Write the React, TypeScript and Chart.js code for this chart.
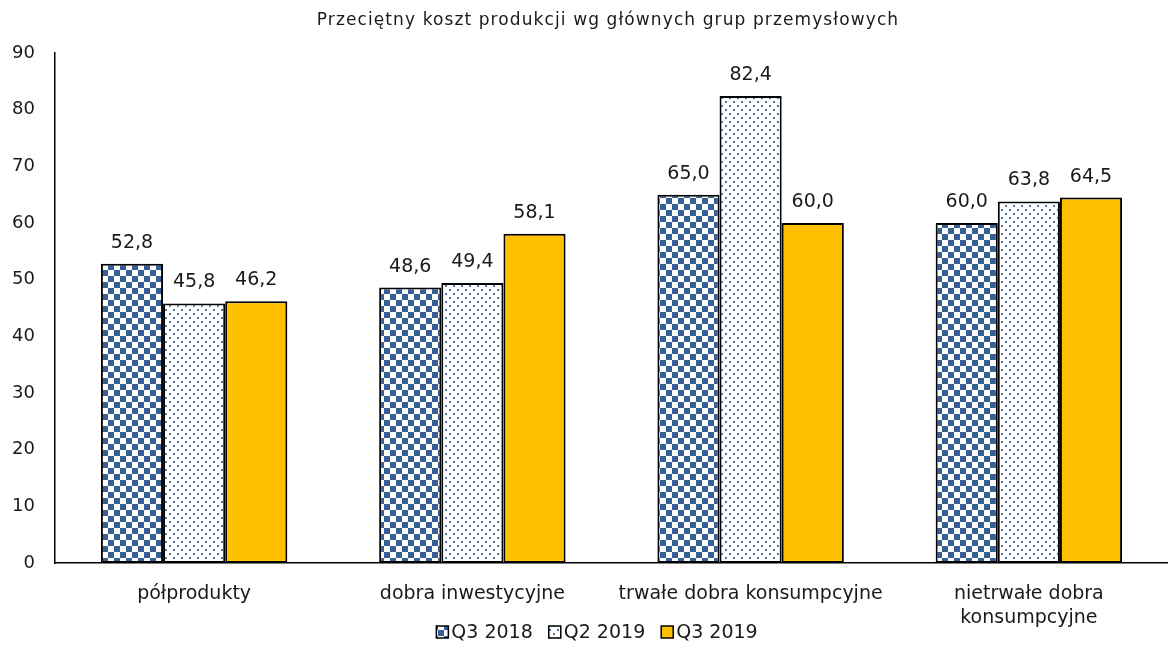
import React, { useEffect, useRef } from "react";
import { Chart, registerables } from "chart.js";

Chart.register(...registerables);

const title = "Przeciętny koszt produkcji wg głównych grup przemysłowych";
const categories: (string | string[])[] = [
  "półprodukty",
  "dobra inwestycyjne",
  "trwałe dobra konsumpcyjne",
  ["nietrwałe dobra", "konsumpcyjne"],
];
const seriesNames = ["Q3 2018", "Q2 2019", "Q3 2019"];
const q3_2018 = [52.8, 48.6, 65.0, 60.0];
const q2_2019 = [45.8, 49.4, 82.4, 63.8];
const q3_2019 = [46.2, 58.1, 60.0, 64.5];

const BLUE = "#365F95";
const DOT = "#4F73A8";
const GOLD = "#FFC000";
const TEXT = "#1a1a1a";
const FONT = "'DejaVu Sans', Verdana, sans-serif";

function checkerPattern(): CanvasPattern | string {
  const c = document.createElement("canvas");
  c.width = 12;
  c.height = 12;
  const g = c.getContext("2d")!;
  g.fillStyle = "#ffffff";
  g.fillRect(0, 0, 12, 12);
  g.fillStyle = BLUE;
  g.fillRect(0, 0, 6, 6);
  g.fillRect(6, 6, 6, 6);
  return g.createPattern(c, "repeat") || BLUE;
}

function dotPattern(): CanvasPattern | string {
  const c = document.createElement("canvas");
  c.width = 8;
  c.height = 8;
  const g = c.getContext("2d")!;
  g.fillStyle = "#ffffff";
  g.fillRect(0, 0, 8, 8);
  g.fillStyle = DOT;
  g.fillRect(1, 1, 2, 2);
  g.fillRect(5, 5, 2, 2);
  return g.createPattern(c, "repeat") || "#ffffff";
}

// value labels above each bar, decimal comma
const valueLabels = {
  id: "valueLabels",
  afterDatasetsDraw(chart: any) {
    const ctx = chart.ctx;
    ctx.save();
    ctx.font = `19px ${FONT}`;
    ctx.fillStyle = TEXT;
    ctx.textAlign = "center";
    ctx.textBaseline = "alphabetic";
    chart.data.datasets.forEach((ds: any, i: number) => {
      const meta = chart.getDatasetMeta(i);
      meta.data.forEach((bar: any, j: number) => {
        const v = ds.data[j] as number;
        ctx.fillText(v.toFixed(1).replace(".", ","), bar.x, bar.y - 16);
      });
    });
    ctx.restore();
  },
};

// title and legend drawn by hand
const decorations = {
  id: "decorations",
  afterDraw(chart: any) {
    const ctx = chart.ctx as CanvasRenderingContext2D;
    ctx.save();
    ctx.fillStyle = TEXT;
    ctx.font = `17px ${FONT}`;
    (ctx as any).letterSpacing = "1.1px";
    ctx.textAlign = "center";
    ctx.textBaseline = "middle";
    ctx.fillText(title, 608, 21);
    (ctx as any).letterSpacing = "0px";

    ctx.font = `19px ${FONT}`;
    ctx.textAlign = "left";
    const box = 12;
    const gapBoxText = 3;
    const gapItems = 16;
    const widths = seriesNames.map((n) => ctx.measureText(n).width);
    const total =
      widths.reduce((a, w) => a + box + gapBoxText + w, 0) + gapItems * (seriesNames.length - 1);
    let x = 597 - total / 2;
    const cy = 632;
    chart.data.datasets.forEach((ds: any, i: number) => {
      ctx.fillStyle = ds.backgroundColor;
      ctx.fillRect(x, cy - box / 2, box, box);
      ctx.strokeStyle = "#000";
      ctx.lineWidth = 1.5;
      ctx.strokeRect(x, cy - box / 2, box, box);
      ctx.fillStyle = TEXT;
      ctx.fillText(seriesNames[i], x + box + gapBoxText, cy + 1);
      x += box + gapBoxText + widths[i] + gapItems;
    });
    ctx.restore();
  },
};

export default function App() {
  const ref = useRef<HTMLCanvasElement>(null);

  useEffect(() => {
    if (!ref.current) return;
    const common = {
      borderColor: "#000000",
      borderWidth: 2,
      borderSkipped: false,
      barPercentage: 1,
      categoryPercentage: 0.67,
    };
    const chart = new Chart(ref.current, {
      type: "bar",
      data: {
        labels: categories,
        datasets: [
          { label: seriesNames[0], data: q3_2018, backgroundColor: checkerPattern() as any, ...common },
          { label: seriesNames[1], data: q2_2019, backgroundColor: dotPattern() as any, ...common },
          { label: seriesNames[2], data: q3_2019, backgroundColor: GOLD, ...common },
        ],
      },
      options: {
        animation: false,
        responsive: true,
        maintainAspectRatio: false,
        layout: { padding: { top: 53, right: 0, left: 0, bottom: 0 } },
        plugins: {
          title: { display: false },
          legend: { display: false },
          tooltip: { enabled: false },
        },
        scales: {
          x: {
            grid: { display: false, drawTicks: false },
            border: { display: true, color: "#000", width: 1.5 },
            ticks: {
              color: TEXT,
              font: { family: FONT, size: 19, lineHeight: 1.26 },
              padding: 19,
              maxRotation: 0,
            },
            afterFit(scale: any) {
              scale.height = 83;
            },
          },
          y: {
            min: 0,
            max: 90,
            grid: { display: false, drawTicks: false },
            border: { display: true, color: "#000", width: 1.5 },
            ticks: { stepSize: 10, color: TEXT, font: { family: FONT, size: 18 }, padding: 20 },
            afterFit(scale: any) {
              scale.width = 55;
            },
          },
        },
      },
      plugins: [valueLabels, decorations],
    });
    return () => chart.destroy();
  }, []);

  return (
    <div style={{ position: "fixed", left: 0, top: 0, width: 1168, height: 646, background: "#fff" }}>
      <canvas ref={ref} />
    </div>
  );
}
